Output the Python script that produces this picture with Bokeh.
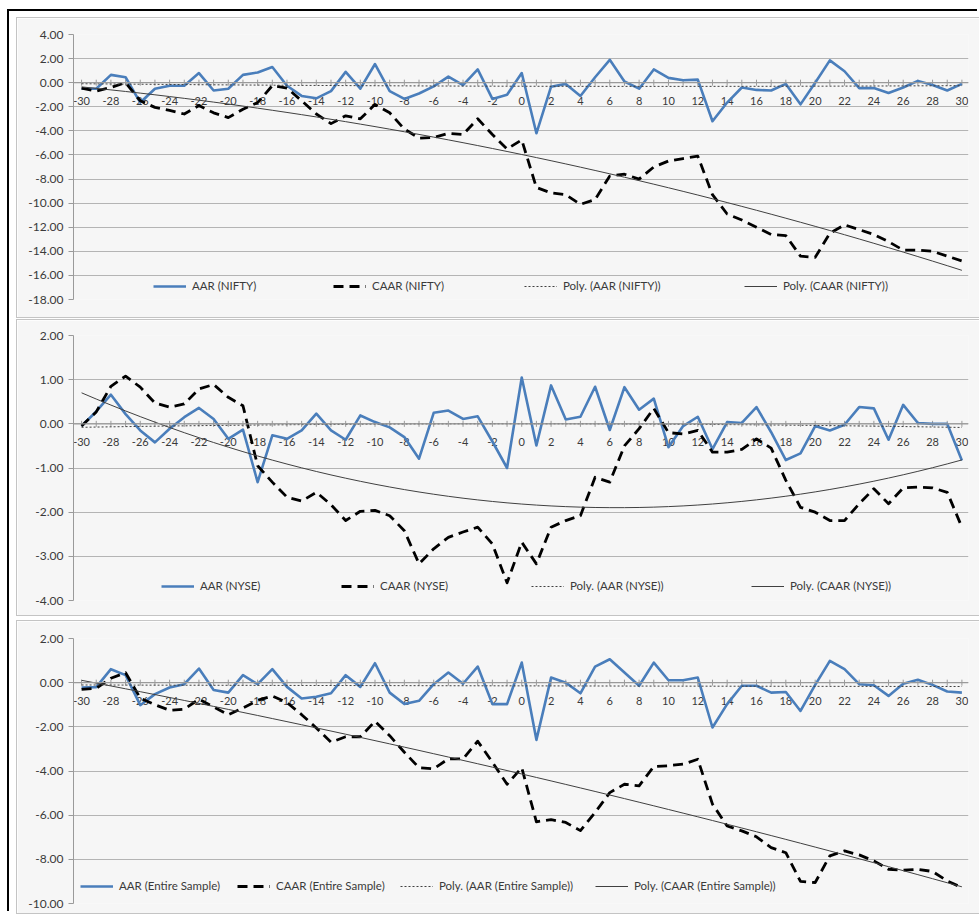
import numpy as np
from bokeh.plotting import figure
from bokeh.models import Range1d, FixedTicker, PrintfTickFormatter, Legend, LegendItem, Span
from bokeh.layouts import column
from bokeh.core.properties import value
from bokeh.embed import file_html
from bokeh.resources import INLINE

# ---------------- data ----------------
days = list(range(-30, 31))
x_tick_values = list(range(-30, 31, 2))
x_tick_labels = [str(v) for v in x_tick_values]

nifty_y_ticks = [-18, -16, -14, -12, -10, -8, -6, -4, -2, 0, 2, 4]
nyse_y_ticks = [-4, -3, -2, -1, 0, 1, 2]
all_y_ticks = [-10, -8, -6, -4, -2, 0, 2]

aar_nifty = [-0.5, -0.5, 0.65, 0.45, -1.65, -0.5, -0.25, -0.25, 0.8, -0.65,
             -0.5, 0.65, 0.85, 1.3, -0.25, -1.1, -1.3, -0.7, 0.9, -0.5,
             1.55, -0.7, -1.35, -0.9, -0.3, 0.5, -0.2, 1.1, -1.35, -1.0,
             0.8, -4.2, -0.33, -0.1, -1.1, 0.45, 1.9, 0.1, -0.5, 1.1,
             0.4, 0.2, 0.25, -3.2, -1.65, -0.4, -0.6, -0.65, -0.1, -1.8,
             0.0, 1.85, 0.95, -0.45, -0.45, -0.85, -0.4, 0.15, -0.2, -0.65,
             -0.1]
caar_nifty = [-0.45, -0.7, -0.4, 0.0, -1.5, -2.05, -2.3, -2.6, -1.9, -2.5,
              -2.9, -2.2, -1.65, -0.25, -0.45, -1.5, -2.6, -3.4, -2.75, -3.0,
              -1.8, -2.5, -3.85, -4.6, -4.55, -4.2, -4.3, -3.0, -4.3, -5.5,
              -4.75, -8.7, -9.15, -9.3, -10.1, -9.7, -7.75, -7.6, -8.0, -7.0,
              -6.5, -6.3, -6.1, -9.3, -10.9, -11.4, -12.0, -12.6, -12.7, -14.4,
              -14.5, -12.5, -11.8, -12.2, -12.6, -13.2, -13.9, -13.9, -14.0, -14.4,
              -14.8]

aar_nyse = [-0.05, 0.28, 0.66, 0.22, -0.15, -0.42, -0.11, 0.15, 0.36, 0.11,
            -0.34, -0.13, -1.32, -0.26, -0.34, -0.15, 0.23, -0.15, -0.36, 0.19,
            0.04, -0.08, -0.3, -0.79, 0.25, 0.3, 0.11, 0.17, -0.4, -1.0,
            1.05, -0.49, 0.87, 0.1, 0.16, 0.84, -0.14, 0.83, 0.32, 0.57,
            -0.53, -0.05, 0.16, -0.57, 0.04, 0.02, 0.38, -0.19, -0.82, -0.67,
            -0.05, -0.15, -0.02, 0.38, 0.35, -0.36, 0.43, 0.02, 0.0, 0.0,
            -0.83]
caar_nyse = [-0.05, 0.27, 0.85, 1.08, 0.83, 0.47, 0.38, 0.45, 0.79, 0.89,
             0.6, 0.41, -0.95, -1.32, -1.66, -1.75, -1.55, -1.83, -2.19, -1.98,
             -1.96, -2.08, -2.42, -3.17, -2.83, -2.57, -2.45, -2.34, -2.72, -3.6,
             -2.68, -3.17, -2.34, -2.19, -2.08, -1.21, -1.32, -0.5, -0.11, 0.35,
             -0.2, -0.23, -0.15, -0.64, -0.64, -0.58, -0.34, -0.55, -1.28, -1.89,
             -2.0, -2.19, -2.19, -1.81, -1.47, -1.81, -1.45, -1.43, -1.45, -1.55,
             -2.34]

aar_all = [-0.22, -0.2, 0.61, 0.34, -1.02, -0.52, -0.22, -0.07, 0.64, -0.33,
           -0.45, 0.34, -0.07, 0.61, -0.19, -0.72, -0.64, -0.48, 0.34, -0.19,
           0.88, -0.45, -0.97, -0.82, -0.07, 0.46, -0.05, 0.73, -0.97, -0.97,
           0.91, -2.59, 0.23, 0.0, -0.48, 0.73, 1.06, 0.46, -0.14, 0.91,
           0.11, 0.11, 0.23, -2.03, -0.97, -0.14, -0.14, -0.45, -0.42, -1.28,
           -0.1, 0.99, 0.61, -0.07, -0.12, -0.6, -0.05, 0.13, -0.1, -0.4,
           -0.45]
caar_all = [-0.3, -0.25, 0.2, 0.45, -0.7, -1.0, -1.25, -1.2, -0.75, -1.1,
            -1.45, -1.15, -0.8, -0.6, -0.9, -1.45, -2.05, -2.7, -2.45, -2.45,
            -1.75, -2.4, -3.15, -3.85, -3.9, -3.45, -3.45, -2.65, -3.6, -4.6,
            -3.85, -6.3, -6.2, -6.33, -6.7, -5.88, -4.98, -4.6, -4.67, -3.8,
            -3.76, -3.69, -3.47, -5.5, -6.49, -6.71, -6.98, -7.47, -7.7, -9.0,
            -9.05, -7.84, -7.62, -7.8, -8.07, -8.45, -8.49, -8.45, -8.55, -8.98,
            -9.28]

# ---------------- style ----------------
FONT = "Lato"
BG = "#f6f6f6"
TXT = "#3a3a3a"
GRID = "#b4b4b4"
AXIS = "#9a9a9a"


def make_panel(aar, caar, name, y_ticks, height, b_top, b_bottom, b_left,
               legend_xs, legend_y, top_margin):
    p = figure(width=962, height=height, output_backend="svg", toolbar_location=None,
               x_range=Range1d(-30.55, 30.45),
               y_range=Range1d(min(y_ticks), max(y_ticks)),
               x_axis_type=None,
               min_border_left=b_left, min_border_right=11,
               min_border_top=b_top, min_border_bottom=b_bottom,
               background_fill_color=BG, border_fill_color=BG,
               outline_line_color=None,
               margin=(top_margin, 0, 0, 8),
               styles={"outline": "1px solid #c4c4c4"})

    yax = p.yaxis[0]
    yax.ticker = FixedTicker(ticks=y_ticks)
    yax.formatter = PrintfTickFormatter(format="%.2f")
    yax.major_label_text_font = FONT
    yax.major_label_text_font_size = "12px"
    yax.major_label_text_color = TXT
    yax.axis_line_color = AXIS
    yax.major_tick_line_color = AXIS
    yax.major_tick_out = 5
    yax.major_tick_in = 0
    yax.minor_tick_line_color = None
    yax.major_label_standoff = 5

    p.ygrid.ticker = FixedTicker(ticks=y_ticks)
    p.ygrid.grid_line_color = GRID
    p.ygrid.grid_line_width = 1.2

    # category axis crossing at zero
    p.add_layout(Span(location=0, dimension="width", line_color=AXIS, line_width=1.2))
    p.scatter(x=days, y=[0] * len(days), marker="dash", angle=np.pi / 2, size=6,
              line_color=AXIS, line_width=1)
    p.text(x=x_tick_values, y=[0] * len(x_tick_values), text=x_tick_labels,
           text_align="center", text_baseline="middle", y_offset=18,
           text_font=value(FONT), text_font_size="11px", text_color=TXT)

    x = np.array(days, dtype=float)
    r_aar = p.line(days, aar, line_color="#4a7ebb", line_width=2.6, line_join="round")
    r_caar = p.line(days, caar, line_color="black", line_width=2.8,
                    line_dash="10 6", line_join="round")
    fit_aar = np.polyval(np.polyfit(x, np.array(aar), 2), x)
    fit_caar = np.polyval(np.polyfit(x, np.array(caar), 2), x)
    r_faar = p.line(days, fit_aar, line_color="#404040", line_width=1, line_dash="2 2")
    r_fcaar = p.line(days, fit_caar, line_color="#404040", line_width=1)

    labels = [f"AAR ({name})", f"CAAR ({name})",
              f"Poly. (AAR ({name}))", f"Poly. (CAAR ({name}))"]
    for r, lab, lx in zip([r_aar, r_caar, r_faar, r_fcaar], labels, legend_xs):
        lg = Legend(items=[LegendItem(label=lab, renderers=[r])],
                    location=(lx, legend_y), orientation="horizontal",
                    padding=0, margin=0, spacing=0,
                    glyph_width=33, glyph_height=12, label_height=12,
                    label_standoff=6, label_text_font=FONT,
                    label_text_font_size="11.5px", label_text_color=TXT,
                    background_fill_alpha=0, border_line_color=None)
        p.add_layout(lg, "center")
    return p


p1 = make_panel(aar_nifty, caar_nifty, "NIFTY", nifty_y_ticks, 299, 16, 18, 55,
                [80, 260, 451, 671], 7, 7)
p2 = make_panel(aar_nyse, caar_nyse, "NYSE", nyse_y_ticks, 295, 15, 15, 50,
                [88, 268, 458, 678], 8, 3)
p3 = make_panel(aar_all, caar_all, "Entire Sample", all_y_ticks, 292, 17, 10, 56,
                [7, 164, 327, 522], 11, 6)

layout = column(p1, p2, p3, spacing=0, margin=(11, 0, 0, 9),
                styles={"box-shadow": "-2px -2px 0 0 #000000"})

open("out.html", "w").write(file_html(layout, INLINE))
